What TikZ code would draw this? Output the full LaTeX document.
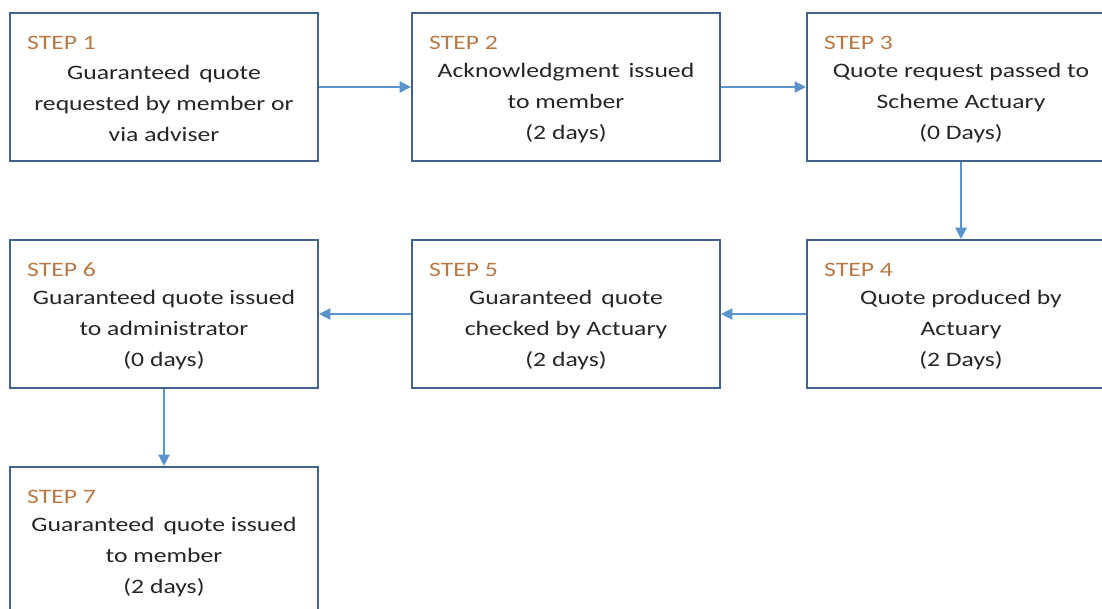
\documentclass[tikz,border=0pt]{standalone}
\usepackage{fontspec}
\setmainfont[FakeStretch=1.25]{Carlito}
\usetikzlibrary{arrows.meta}
\definecolor{boxline}{HTML}{41628F}
\definecolor{flowline}{HTML}{5B93CD}
\definecolor{steptext}{HTML}{B97945}
\tikzset{
  stepbox/.style={draw=boxline, line width=1.5pt, fill=white, minimum width=308*0.025cm,
    minimum height=148*0.025cm, align=center, inner sep=0pt,
    font=\fontsize{14.6}{22}\selectfont, text=black!85},
  steplabel/.style={anchor=west, inner sep=0pt, text=steptext, font=\fontsize{14.6}{17}\selectfont},
  flow/.style={draw=flowline, line width=1pt, -{Triangle[length=8pt,width=8pt]}}
}
\newcommand{\wsp}{\hspace{0.15em}}
\begin{document}
\begin{tikzpicture}[x=0.025cm,y=-0.025cm]
\pgfmathsetmacro{\colA}{164}
\pgfmathsetmacro{\colB}{566}
\pgfmathsetmacro{\colC}{961}
\pgfmathsetmacro{\rowA}{87}
\pgfmathsetmacro{\rowB}{314}
\pgfmathsetmacro{\rowC}{541}
\useasboundingbox (0,0) rectangle (1102,608);
\clip (0,0) rectangle (1102,608);
\node[stepbox] (s1) at (\colA,\rowA) {\\[11pt]Guaranteed\wsp{} quote\\requested by member or\\via adviser};
\node[stepbox] (s2) at (\colB,\rowA) {\\[11pt]Acknowledgment\wsp{} issued\\to member\\(2 days)};
\node[stepbox] (s3) at (\colC,\rowA) {\\[11pt]Quote request passed to\\Scheme Actuary\\(0 Days)};
\node[stepbox] (s4) at (\colC,\rowB) {\\[11pt]Quote produced by\\Actuary\\(2 Days)};
\node[stepbox] (s5) at (\colB,\rowB) {\\[11pt]Guaranteed\wsp{} quote\\checked by Actuary\\(2 days)};
\node[stepbox] (s6) at (\colA,\rowB) {\\[11pt]Guaranteed quote issued\\to administrator\\(0 days)};
\node[stepbox] (s7) at (\colA,\rowC) {\\[11pt]Guaranteed\wsp{} quote issued\\to member\\(2 days)};
% step numbers
\foreach \n in {1,...,7}
  \node[steplabel] (l\n) at ([xshift=18*0.025cm,yshift=-31*0.025cm]s\n.north west) {STEP \n};
% connectors
\draw[flow] (s1) -- (s2);
\draw[flow] (s2) -- (s3);
\draw[flow] (s3) -- (s4);
\draw[flow] (s4) -- (s5);
\draw[flow] (s5) -- (s6);
\draw[flow] (s6) -- (s7);
\end{tikzpicture}
\end{document}
